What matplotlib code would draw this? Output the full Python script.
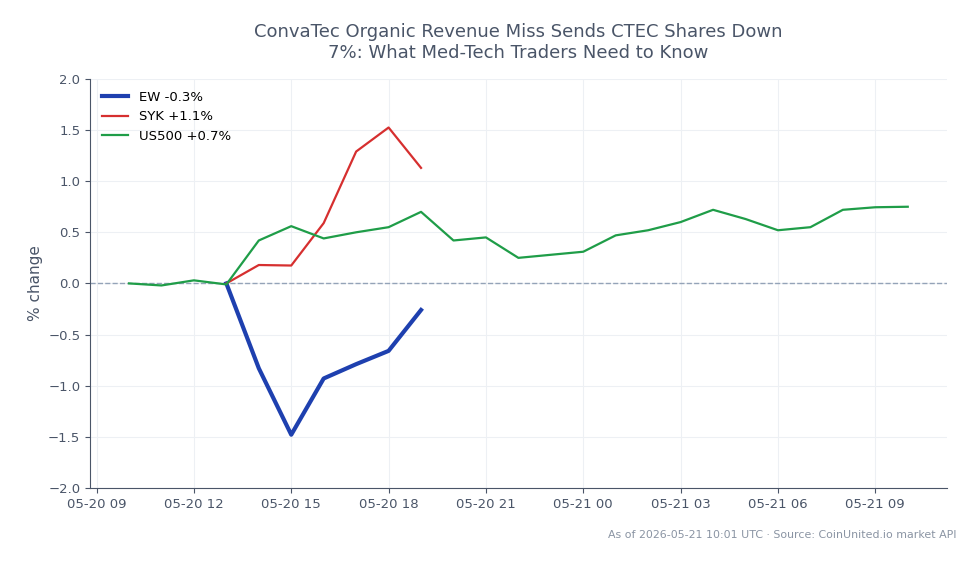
import pandas as pd
import matplotlib
matplotlib.use("Agg")
import matplotlib.pyplot as plt
import matplotlib.dates as mdates

# hourly % change since 05-20 10:00 (US500) / 13:00 (EW, SYK)
us500_times = pd.date_range("2026-05-20 10:00", "2026-05-21 10:00", freq="h")
us500_vals = [0.00, -0.02, 0.03, -0.01, 0.42, 0.56, 0.44, 0.50, 0.55, 0.70,
              0.42, 0.45, 0.25, 0.28, 0.31, 0.47, 0.52, 0.60, 0.72, 0.63,
              0.52, 0.55, 0.72, 0.745, 0.75]

stock_times = pd.date_range("2026-05-20 13:00", "2026-05-20 19:00", freq="h")
ew_vals = [0.00, -0.83, -1.48, -0.93, -0.79, -0.66, -0.26]
syk_vals = [0.00, 0.18, 0.175, 0.59, 1.29, 1.525, 1.13]

labels = ["EW -0.3%", "SYK +1.1%", "US500 +0.7%"]
title = "ConvaTec Organic Revenue Miss Sends CTEC Shares Down\n7%: What Med-Tech Traders Need to Know"
footer = "As of 2026-05-21 10:01 UTC · Source: CoinUnited.io market API"

text_col = "#4a5568"
fig = plt.figure(figsize=(9.79, 5.64), dpi=100)
ax = fig.add_axes([0.092, 0.135, 0.875, 0.725])

ax.plot(stock_times, ew_vals, color="#1e40af", lw=3, label=labels[0], zorder=3)
ax.plot(stock_times, syk_vals, color="#d62f2f", lw=1.6, label=labels[1], zorder=3)
ax.plot(us500_times, us500_vals, color="#1f9d48", lw=1.6, label=labels[2], zorder=3)
ax.axhline(0, color="#94a3b8", lw=1, ls="--", zorder=1)

ax.set_ylim(-2.0, 2.0)
ax.set_yticks([-2.0, -1.5, -1.0, -0.5, 0.0, 0.5, 1.0, 1.5, 2.0])
ax.xaxis.set_major_locator(mdates.HourLocator(byhour=range(0, 24, 3)))
ax.xaxis.set_major_formatter(mdates.DateFormatter("%m-%d %H"))

ax.grid(True, color="#edf0f4", lw=0.8, zorder=0)
ax.set_axisbelow(True)
for s in ["top", "right"]:
    ax.spines[s].set_visible(False)
for s in ["left", "bottom"]:
    ax.spines[s].set_color(text_col)
ax.tick_params(colors=text_col, labelsize=9.5)
ax.set_ylabel("% change", color=text_col, fontsize=11)
ax.set_title(title, color=text_col, fontsize=13, pad=15)

leg = ax.legend(loc="upper left", frameon=False, fontsize=9.5)

fig.text(0.977, 0.052, footer, ha="right", va="center", color="#8a94a3", fontsize=7.9)

fig.savefig("out.png", dpi=100)
